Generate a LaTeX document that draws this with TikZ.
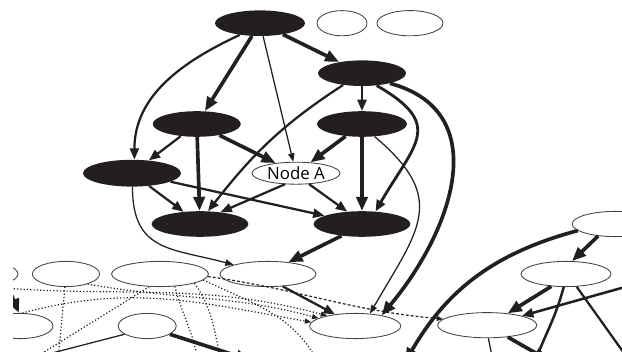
\documentclass[tikz,border=0pt]{standalone}
\usepackage{fontspec}
\usetikzlibrary{shapes.geometric,arrows.meta}
\newfontfamily\nodefont{Open Sans}
\definecolor{ink}{RGB}{35,31,32}

\begin{document}
\begin{tikzpicture}[line join=round]
  \tikzset{
      dark/.style={ellipse, fill=ink, inner sep=0pt, minimum height=0.64cm},
      pale/.style={ellipse, draw=ink!85, line width=0.6pt, fill=white, inner sep=0pt, minimum height=0.63cm},
      heavy/.style={draw=ink, line width=2.6pt, -{Triangle[length=10pt,width=8pt]}},
      mid/.style={draw=ink, line width=1.6pt, -{Triangle[length=8pt,width=6.5pt]}},
      light/.style={draw=ink, line width=0.9pt, -{Triangle[length=6pt,width=4.5pt]}},
      faint/.style={draw=ink, line width=0.85pt, dash pattern=on 0.85pt off 1.5pt, -{Triangle[length=4.5pt,width=3.5pt]}},
      gap/.style={faint, dash pattern=on 2pt off 1.5pt}
  }
  \useasboundingbox (0,0) rectangle (15.55,8.8);
  \clip (0.33,0) rectangle (15.55,8.8);

  % dark cluster
  \node[dark, minimum width=2.25cm] (t)  at (6.50, 8.22) {};
  \node[dark, minimum width=2.20cm] (r1) at (9.05, 6.97) {};
  \node[dark, minimum width=2.20cm] (l1) at (4.92, 5.70) {};
  \node[dark, minimum width=2.25cm] (r2) at (9.05, 5.70) {};
  \node[dark, minimum width=2.45cm, minimum height=0.67cm] (l2) at (3.30, 4.47) {};
  \node[dark, minimum width=2.42cm] (b1) at (5.00, 3.20) {};
  \node[dark, minimum width=2.42cm] (b2) at (9.05, 3.20) {};
  \node[pale, minimum width=2.20cm, minimum height=0.55cm, font=\nodefont\fontsize{12}{12}\selectfont] (na) at (7.40, 4.47) {Node A};

  % loose nodes
  \node[pale, minimum width=1.25cm] (e1) at (8.55, 8.22) {};
  \node[pale, minimum width=1.65cm] (e2) at (10.25, 8.22) {};
  \node[pale, minimum width=1.90cm] (u0) at (-0.50, 1.95) {};
  \node[pale, minimum width=1.68cm] (u1) at (1.65, 1.95) {};
  \node[pale, minimum width=2.42cm] (u2) at (4.00, 1.95) {};
  \node[pale, minimum width=2.40cm] (u3) at (6.70, 1.95) {};
  \node[pale, minimum width=1.65cm] (v0) at (0.50, 0.65) {};
  \node[pale, minimum width=1.45cm] (v1) at (3.68, 0.65) {};
  \node[pale, minimum width=2.28cm] (v2) at (8.88, 0.65) {};
  \node[pale, minimum width=2.48cm] (v3) at (12.18, 0.67) {};
  \node[pale, minimum width=2.25cm] (u4) at (14.15, 1.95) {};
  \node[pale, minimum width=2.15cm] (s0) at (15.38, 3.20) {};

  % ends outside the frame
  \coordinate (o1)  at (10.13, -0.25);
  \coordinate (o2)  at (16.25, 1.80);
  \coordinate (o3)  at (15.90, -0.45);
  \coordinate (o4)  at (13.35, -0.33);
  \coordinate (o5)  at (13.70, -0.20);
  \coordinate (o6)  at (12.33, -0.25);
  \coordinate (o7)  at (0.13, 1.80);
  \coordinate (o8)  at (1.45, -0.25);
  \coordinate (o9)  at (0.70, -0.25);
  \coordinate (o10) at (5.55, -0.25);
  \coordinate (o11) at (4.95, -0.25);
  \coordinate (o12) at (7.95, -0.25);
  \coordinate (o13) at (0.63, -0.20);
  \coordinate (o14) at (6.25, -0.20);

  % dark cluster edges
  \draw[mid]   (t.210) to[out=205, in=90] (l2.80);
  \draw[heavy] (t) -- (l1);
  \draw[light] (t) -- (na);
  \draw[heavy] (t) -- (r1);
  \draw[mid]   (r1) -- (r2);
  \draw[mid]   (r1.212) to[out=213, in=52] (b1.58);
  \draw[mid, line width=2pt] (r1.-40) to[out=-30, in=60, looseness=1.6] (b2.43);
  \draw[heavy] (r1.-20) to[out=-15, in=50, looseness=1.2] (v2.22);
  \draw[heavy] (r2) -- (na);
  \draw[heavy] (r2) -- (b2);
  \draw[light] (r2.-45) to[out=-40, in=60, looseness=1.4] (v2.40);
  \draw[mid]   (l1) -- (l2);
  \draw[heavy] (l1) -- (b1);
  \draw[heavy] (l1) -- (na);
  \draw[mid]   (l2) -- (b1);
  \draw[mid]   (l2) -- (b2);
  \draw[light] (l2.-88) to[out=-90, in=165, looseness=1.3] (u3.165);
  \draw[mid]   (na.225) -- (b1.30);
  \draw[mid]   (na.-40) -- (b2.140);
  \draw[heavy] (b2.210) -- (u3.30);
  \draw[mid]   (u3.-40) -- (v2.150);

  % right group
  \draw[heavy] (s0.215) -- (u4.65);
  \draw[heavy] (s0.190) to[out=195, in=60] (o1);
  \draw[heavy] (u4.220) -- (v3.30);
  \draw[mid, line width=1.8pt] (o2) -- (v3.15);
  \draw[mid]   (u4.-50) -- (o3);
  \draw[mid, line width=1.8pt] (u4.-100) to[out=-105, in=70] (o4);
  \draw[heavy] (v3.-30) -- (o5);
  \draw[light] (v3.-85) -- (o6);

  % lower left group
  \draw[heavy] (o7) -- (v0.95);
  \draw[light] (v1.200) -- (o13);
  \draw[heavy] (v1.-20) -- (o14);
  \draw[faint] (u0.-60) to[out=-5, in=165] (v2.160);
  \draw[faint] (v0.80) to[out=15, in=170] (v2.175);
  \draw[faint] (u1.-25) to[out=-10, in=165] (v2.168);
  \draw[faint] (u1.-95) to[out=-95, in=85] (o8);
  \draw[faint] (u2.-130) -- (o9);
  \draw[faint] (u2.-40) to[out=-75, in=100] (o11);
  \draw[faint] (u2.-15) to[out=-55, in=105] (o10);
  \draw[faint] (u2.-8) to[out=-25, in=120] (o12);
  \draw[gap]   (u2.-3) to[out=-8, in=175] (v3.172);
\end{tikzpicture}
\end{document}
